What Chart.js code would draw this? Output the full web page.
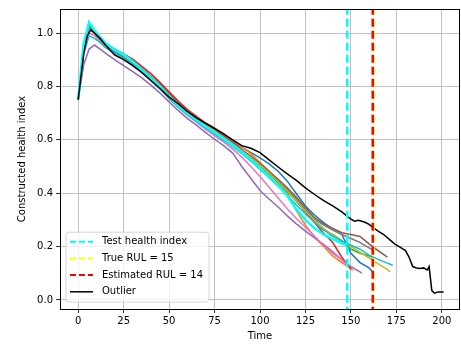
<!DOCTYPE html>
<html>
<head>
<meta charset="utf-8">
<script src="https://cdn.jsdelivr.net/npm/chart.js@4.4.0/dist/chart.umd.min.js"></script>
<style>
  html, body { margin: 0; padding: 0; background: #fff; }
</style>
</head>
<body>
<canvas id="chart" width="461" height="346"></canvas>
<script>
'use strict';

// time grid shared by the training curves
var timeGrid = [0, 3, 6, 9, 12, 15, 20, 25, 30, 35, 40, 45, 50, 55, 60, 65, 70, 75, 80, 85,
  90, 95, 100, 105, 110, 115, 120, 125, 130, 135, 140, 145, 150, 155, 160, 165, 170];

// training health indices (values on timeGrid, until their end time)
var blueHI = [0.75, 0.94, 1.02, 1.0, 0.975, 0.955, 0.93, 0.91, 0.885, 0.858, 0.83, 0.80, 0.768, 0.735, 0.708, 0.683, 0.66, 0.638, 0.615, 0.592, 0.572, 0.552, 0.532, 0.51, 0.482, 0.445, 0.398, 0.352, 0.318, 0.29, 0.265, 0.245, 0.175, 0.14, 0.12];
var orangeHI = [0.75, 0.95, 1.03, 1.0, 0.98, 0.96, 0.935, 0.918, 0.895, 0.868, 0.838, 0.808, 0.775, 0.742, 0.712, 0.688, 0.664, 0.645, 0.622, 0.598, 0.573, 0.547, 0.515, 0.482, 0.445, 0.40, 0.335, 0.28, 0.235, 0.20, 0.165, 0.14, 0.118];
var greenHI = [0.75, 0.95, 1.03, 1.0, 0.978, 0.958, 0.935, 0.915, 0.89, 0.862, 0.832, 0.80, 0.765, 0.73, 0.702, 0.678, 0.652, 0.63, 0.606, 0.582, 0.555, 0.53, 0.502, 0.47, 0.438, 0.405, 0.37, 0.33, 0.292, 0.262, 0.245, 0.222, 0.19, 0.175, 0.165];
var redHI = [0.75, 0.94, 1.02, 1.0, 0.982, 0.962, 0.94, 0.922, 0.902, 0.875, 0.848, 0.815, 0.78, 0.745, 0.714, 0.688, 0.662, 0.64, 0.615, 0.59, 0.562, 0.536, 0.508, 0.478, 0.445, 0.41, 0.375, 0.33, 0.29, 0.25, 0.215, 0.16];
var purpleHI = [0.75, 0.88, 0.94, 0.955, 0.94, 0.925, 0.90, 0.878, 0.855, 0.832, 0.805, 0.775, 0.742, 0.71, 0.68, 0.655, 0.628, 0.602, 0.578, 0.55, 0.50, 0.455, 0.41, 0.378, 0.348, 0.315, 0.285, 0.258, 0.232, 0.208, 0.18, 0.15, 0.125, 0.105];
var brownHI = [0.75, 0.94, 1.02, 1.0, 0.98, 0.96, 0.938, 0.918, 0.895, 0.868, 0.838, 0.806, 0.772, 0.738, 0.708, 0.682, 0.658, 0.636, 0.612, 0.588, 0.562, 0.538, 0.512, 0.482, 0.452, 0.42, 0.385, 0.345, 0.308, 0.285, 0.268, 0.252, 0.245, 0.238, 0.21, 0.185];
var pinkHI = [0.75, 0.93, 1.0, 0.99, 0.97, 0.948, 0.925, 0.905, 0.88, 0.852, 0.822, 0.792, 0.758, 0.722, 0.692, 0.666, 0.64, 0.616, 0.592, 0.565, 0.535, 0.50, 0.462, 0.422, 0.382, 0.342, 0.305, 0.272, 0.238, 0.205, 0.175, 0.15];
var grayHI = [0.75, 0.94, 1.02, 1.0, 0.978, 0.958, 0.935, 0.915, 0.89, 0.862, 0.832, 0.80, 0.766, 0.732, 0.704, 0.68, 0.656, 0.634, 0.61, 0.586, 0.56, 0.535, 0.508, 0.478, 0.448, 0.415, 0.378, 0.338, 0.302, 0.28, 0.262, 0.245, 0.23, 0.215, 0.195];
var oliveHI = [0.75, 0.95, 1.04, 1.01, 0.982, 0.96, 0.936, 0.915, 0.89, 0.862, 0.832, 0.80, 0.766, 0.732, 0.703, 0.678, 0.654, 0.632, 0.608, 0.584, 0.558, 0.532, 0.505, 0.474, 0.442, 0.408, 0.372, 0.332, 0.298, 0.268, 0.242, 0.22, 0.20, 0.178, 0.158, 0.135, 0.115];
var cyanHI = [0.75, 0.92, 0.99, 0.98, 0.965, 0.945, 0.925, 0.905, 0.88, 0.852, 0.822, 0.79, 0.755, 0.722, 0.695, 0.67, 0.645, 0.622, 0.598, 0.574, 0.548, 0.52, 0.49, 0.458, 0.426, 0.392, 0.356, 0.322, 0.29, 0.262, 0.238, 0.22, 0.205, 0.19, 0.168, 0.152, 0.138];
var testHI = [0.75, 0.96, 1.04, 1.01, 0.985, 0.962, 0.938, 0.92, 0.893, 0.864, 0.833, 0.80, 0.764, 0.728, 0.70, 0.675, 0.65, 0.628, 0.604, 0.58, 0.553, 0.525, 0.495, 0.462, 0.43, 0.39, 0.34, 0.30, 0.268, 0.245, 0.228, 0.212];

// last sample of each curve (order: blue, orange, green, red, purple, brown, pink, gray, olive, cyan, test)
var endTimes = [162, 151, 162, 150, 156, 170, 148, 162, 171.5, 173, 148];
var endValues = [0.105, 0.11, 0.16, 0.115, 0.10, 0.16, 0.13, 0.187, 0.105, 0.13, 0.205];

// outlier curve
var outlierTime = [0, 3, 5, 7, 9, 12, 15, 20, 25, 30, 35, 40, 45, 50, 55, 60, 65, 70, 75, 80, 85, 90, 95, 100,
  105, 110, 115, 120, 125, 130, 135, 140, 145, 150, 152, 154, 156, 158, 160, 162, 165, 168, 171, 174, 177,
  180, 182, 184, 186, 188, 190, 192, 193, 194.5, 196, 198, 200, 201];
var outlierHI = [0.75, 0.92, 0.99, 1.012, 1.0, 0.98, 0.955, 0.918, 0.90, 0.878, 0.852, 0.822, 0.792, 0.76,
  0.735, 0.706, 0.682, 0.662, 0.643, 0.622, 0.60, 0.578, 0.568, 0.552, 0.525, 0.498, 0.472, 0.448, 0.42,
  0.395, 0.372, 0.352, 0.33, 0.303, 0.295, 0.298, 0.295, 0.29, 0.283, 0.272, 0.258, 0.245, 0.228, 0.21,
  0.198, 0.185, 0.16, 0.125, 0.12, 0.118, 0.12, 0.112, 0.125, 0.035, 0.025, 0.03, 0.03, 0.03];

// vertical markers
var testEnd = 148;
var trueRulEnd = 162.6;
var estRulEnd = 162;

var xTicks = [0, 25, 50, 75, 100, 125, 150, 175, 200];
var yTicks = [0, 0.2, 0.4, 0.6, 0.8, 1.0];

var trainColors = ['#1f77b4', '#ff7f0e', '#2ca02c', '#d62728', '#9467bd', '#8c564b', '#e377c2', '#7f7f7f', '#bcbd22', '#17becf'];
var trainSeries = [blueHI, orangeHI, greenHI, redHI, purpleHI, brownHI, pinkHI, grayHI, oliveHI, cyanHI];

function curvePoints(values, endT, endV) {
  var pts = [];
  for (var i = 0; i < values.length; i++) {
    if (timeGrid[i] < endT) {
      pts.push({x: timeGrid[i], y: values[i]});
    }
  }
  pts.push({x: endT, y: endV});
  return pts;
}

function vline(x) {
  return [{x: x, y: -1}, {x: x, y: 2}];
}

var datasets = [];
for (var i = 0; i < trainSeries.length; i++) {
  datasets.push({
    data: curvePoints(trainSeries[i], endTimes[i], endValues[i]),
    borderColor: trainColors[i],
    borderWidth: 1.5
  });
}
datasets.push({
  data: curvePoints(testHI, endTimes[10], endValues[10]),
  borderColor: '#00ffff',
  borderWidth: 2.5
});
var outlierPts = [];
for (var j = 0; j < outlierTime.length; j++) {
  outlierPts.push({x: outlierTime[j], y: outlierHI[j]});
}
datasets.push({data: outlierPts, borderColor: '#000000', borderWidth: 1.5});
datasets.push({data: vline(testEnd), borderColor: '#00ffff', borderWidth: 2.5, borderDash: [8, 4]});
datasets.push({data: vline(trueRulEnd), borderColor: '#ffff00', borderWidth: 2, borderDash: [8, 4]});
datasets.push({data: vline(estRulEnd), borderColor: '#ff0000', borderWidth: 2.5, borderDash: [8, 4]});

// later in the list = drawn on top
for (var k = 0; k < datasets.length; k++) {
  datasets[k].order = datasets.length - k;
  datasets[k].pointRadius = 0;
  datasets[k].fill = false;
  datasets[k].tension = 0;
}

var legendItems = [
  {text: 'Test health index', color: '#00ffff', dash: [6, 3], width: 2},
  {text: 'True RUL = 15', color: '#ffff00', dash: [6, 3], width: 2},
  {text: 'Estimated RUL = 14', color: '#ff0000', dash: [6, 3], width: 2},
  {text: 'Outlier', color: '#000000', dash: [], width: 1.5}
];

var framePlugin = {
  id: 'frameAndLegend',
  afterDraw: function(chart) {
    var ctx = chart.ctx;
    var a = chart.chartArea;
    ctx.save();
    ctx.strokeStyle = '#000';
    ctx.lineWidth = 1;
    ctx.strokeRect(Math.round(a.left) + 0.5, Math.round(a.top) + 0.5,
      Math.round(a.right - a.left) - 1, Math.round(a.bottom - a.top));

    // legend, lower left
    ctx.font = '10px "DejaVu Sans"';
    var maxW = 0;
    legendItems.forEach(function(it) { maxW = Math.max(maxW, ctx.measureText(it.text).width); });
    var boxL = a.left + 6;
    var boxW = 36 + maxW + 6;
    var rowH = 16.7;
    var boxH = rowH * legendItems.length + 3;
    var boxT = a.bottom - 7 - boxH;
    var r = 3;
    ctx.beginPath();
    ctx.moveTo(boxL + r, boxT);
    ctx.arcTo(boxL + boxW, boxT, boxL + boxW, boxT + boxH, r);
    ctx.arcTo(boxL + boxW, boxT + boxH, boxL, boxT + boxH, r);
    ctx.arcTo(boxL, boxT + boxH, boxL, boxT, r);
    ctx.arcTo(boxL, boxT, boxL + boxW, boxT, r);
    ctx.closePath();
    ctx.fillStyle = 'rgba(255,255,255,0.8)';
    ctx.fill();
    ctx.strokeStyle = '#cccccc';
    ctx.lineWidth = 0.8;
    ctx.stroke();

    ctx.textBaseline = 'middle';
    legendItems.forEach(function(it, n) {
      var y = boxT + 9.5 + n * rowH;
      ctx.beginPath();
      ctx.setLineDash(it.dash);
      ctx.strokeStyle = it.color;
      ctx.lineWidth = it.width;
      ctx.moveTo(boxL + 4, y);
      ctx.lineTo(boxL + 27, y);
      ctx.stroke();
      ctx.setLineDash([]);
      ctx.fillStyle = '#000';
      ctx.fillText(it.text, boxL + 36, y);
    });
    ctx.restore();
  }
};

var tickFont = {family: 'DejaVu Sans', size: 10};

var chart = new Chart(document.getElementById('chart').getContext('2d'), {
  type: 'line',
  data: {datasets: datasets},
  plugins: [framePlugin],
  options: {
    responsive: false,
    animation: false,
    devicePixelRatio: 1,
    layout: {padding: {top: 8, right: 1, left: 0, bottom: 0}},
    plugins: {legend: {display: false}, tooltip: {enabled: false}},
    scales: {
      x: {
        type: 'linear',
        min: -10,
        max: 210,
        afterBuildTicks: function(scale) {
          scale.ticks = xTicks.map(function(v) { return {value: v}; });
        },
        afterFit: function(scale) { scale.height = 37; },
        ticks: {font: tickFont, color: '#000', padding: 2, maxRotation: 0,
          callback: function(v) { return String(v); }},
        grid: {color: '#b0b0b0', lineWidth: 0.8, tickColor: '#000', tickLength: 4},
        border: {display: false},
        title: {display: true, text: 'Time', font: tickFont, color: '#000', padding: {top: 0, bottom: 4}}
      },
      y: {
        type: 'linear',
        min: -0.034,
        max: 1.09,
        afterBuildTicks: function(scale) {
          scale.ticks = yTicks.map(function(v) { return {value: v}; });
        },
        afterFit: function(scale) { scale.width = 60; },
        ticks: {font: tickFont, color: '#000', padding: 3,
          callback: function(v) { return v.toFixed(1); }},
        grid: {color: '#b0b0b0', lineWidth: 0.8, tickColor: '#000', tickLength: 4},
        border: {display: false},
        title: {display: true, text: 'Constructed health index', font: tickFont, color: '#000', padding: {top: 16, bottom: 0}}
      }
    }
  }
});
</script>
</body>
</html>
